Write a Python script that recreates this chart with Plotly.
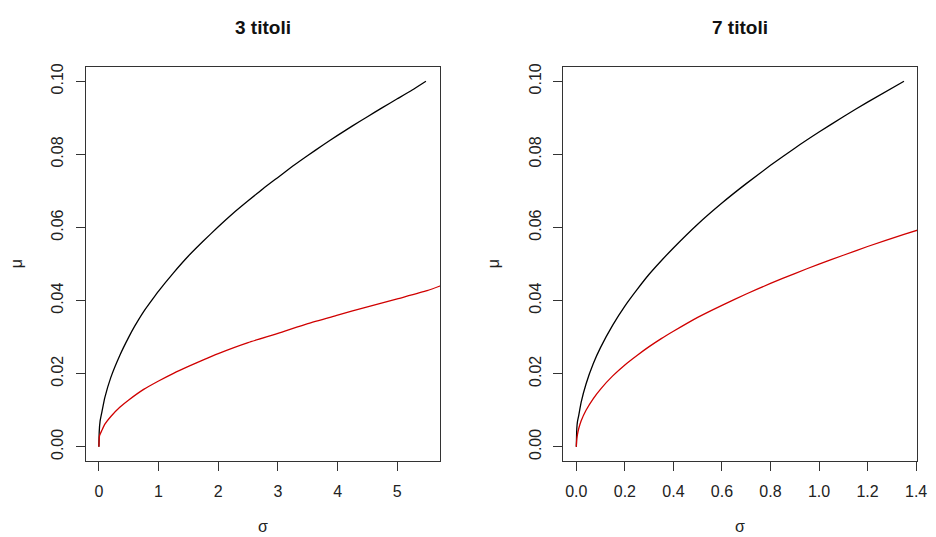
import plotly.graph_objects as go

W, H = 936, 537

# ---- data ----
# Panel 1: "3 titoli"
sig3_black = [0, 0.005, 0.02, 0.05, 0.1, 0.2, 0.35, 0.5, 0.6, 0.75, 0.9, 1, 1.25, 1.5, 1.75, 2, 2.25,
              2.5, 2.75, 3, 3.25, 3.5, 3.75, 4, 4.25, 4.5, 4.75, 5, 5.25, 5.48]
mu3_black = [0, 0.004, 0.007, 0.0095, 0.0135, 0.019, 0.025, 0.030, 0.033, 0.037, 0.0404, 0.0426,
             0.0476, 0.0522, 0.0563, 0.0602, 0.0639, 0.0673, 0.0706, 0.0737, 0.0768, 0.0797,
             0.0825, 0.0852, 0.0878, 0.0903, 0.0928, 0.0952, 0.0976, 0.100]
sig3_red = [0, 0.01, 0.05, 0.1, 0.2, 0.35, 0.5, 0.75, 1, 1.25, 1.5, 1.75, 2, 2.5, 3, 3.5, 4, 4.5,
            5, 5.5, 5.8]
mu3_red = [0, 0.003, 0.0045, 0.0062, 0.0083, 0.0108, 0.0128, 0.0157, 0.018, 0.0201, 0.022, 0.0238,
           0.0255, 0.0285, 0.031, 0.0337, 0.036, 0.0383, 0.0405, 0.0427, 0.0445]

# Panel 2: "7 titoli"
sig7_black = [0, 0.002, 0.005, 0.01, 0.02, 0.04, 0.07, 0.1, 0.15, 0.2, 0.25, 0.3, 0.35, 0.4, 0.5,
              0.6, 0.7, 0.8, 0.9, 1.0, 1.1, 1.2, 1.35]
mu7_black = [0, 0.005, 0.007, 0.0086, 0.0122, 0.0172, 0.0228, 0.0272, 0.0333, 0.0385, 0.043,
             0.0472, 0.0509, 0.0544, 0.0609, 0.0667, 0.072, 0.077, 0.0817, 0.0861, 0.0903,
             0.0943, 0.100]
sig7_red = [0, 0.002, 0.005, 0.01, 0.02, 0.04, 0.07, 0.1, 0.15, 0.2, 0.25, 0.3, 0.35, 0.4, 0.5,
            0.6, 0.7, 0.8, 0.9, 1.0, 1.1, 1.2, 1.35, 1.45]
mu7_red = [0, 0.0022, 0.0035, 0.005, 0.0071, 0.01, 0.0132, 0.0158, 0.0194, 0.0224, 0.025, 0.0274,
           0.0296, 0.0316, 0.0354, 0.0387, 0.0418, 0.0447, 0.0474, 0.05, 0.0524, 0.0548,
           0.0581, 0.0602]

titles = ["3 titoli", "7 titoli"]
x1_ticks = [0, 1, 2, 3, 4, 5]
x1_labels = ["0", "1", "2", "3", "4", "5"]
x2_ticks = [0, 0.2, 0.4, 0.6, 0.8, 1.0, 1.2, 1.4]
x2_labels = ["0.0", "0.2", "0.4", "0.6", "0.8", "1.0", "1.2", "1.4"]
y_ticks = [0, 0.02, 0.04, 0.06, 0.08, 0.10]
y_labels = ["0.00", "0.02", "0.04", "0.06", "0.08", "0.10"]

BLACK = "#000000"
RED = "#D00000"
FONT = "Liberation Sans, Arial, sans-serif"

fig = go.Figure()
series = [(sig3_black, mu3_black, BLACK, "x", "y"),
          (sig3_red, mu3_red, RED, "x", "y"),
          (sig7_black, mu7_black, BLACK, "x2", "y2"),
          (sig7_red, mu7_red, RED, "x2", "y2")]
for xs, ys, col, xa, ya in series:
    fig.add_trace(go.Scatter(x=xs, y=ys, mode="lines",
                             line=dict(color=col, width=1.3, shape="spline", smoothing=0.5),
                             xaxis=xa, yaxis=ya, showlegend=False, cliponaxis=True))


def px_x(a, b):
    return [a / W, b / W]


def px_y(top, bottom):
    return [1 - bottom / H, 1 - top / H]


axis_common = dict(showline=True, linecolor="#333333", linewidth=1, mirror=True,
                   ticks="outside", tickcolor="#333333", tickwidth=1, showgrid=False,
                   zeroline=False, tickfont=dict(family=FONT, size=16, color="#222222"),
                   ticklabeloverflow="allow")

ydom = px_y(64, 461)
fig.update_layout(
    width=W, height=H,
    margin=dict(l=0, r=0, t=0, b=0),
    plot_bgcolor="white", paper_bgcolor="white",
    xaxis=dict(domain=px_x(86.7, 445), range=[-0.22, 5.72], tickvals=x1_ticks, ticktext=x1_labels,
               anchor="y", ticklen=9, ticklabelstandoff=6, **axis_common),
    yaxis=dict(domain=ydom, range=[-0.004, 0.104], tickvals=y_ticks, ticktext=y_labels,
               anchor="x", tickangle=-90, ticklen=9, ticklabelstandoff=6, **axis_common),
    xaxis2=dict(domain=px_x(569.3, 927), range=[-0.054, 1.404], tickvals=x2_ticks, ticktext=x2_labels,
                anchor="y2", ticklen=9, ticklabelstandoff=6, **axis_common),
    yaxis2=dict(domain=ydom, range=[-0.004, 0.104], tickvals=y_ticks, ticktext=y_labels,
                anchor="x2", tickangle=-90, ticklen=9, ticklabelstandoff=6, **axis_common),
)

annots = []
centers = [(86.7 + 445) / 2, (569.3 + 927) / 2]
for cx, t in zip(centers, titles):
    annots.append(dict(text="<b>" + t + "</b>", x=cx / W, y=1 - 25 / H, xref="paper", yref="paper",
                       xanchor="center", yanchor="middle", showarrow=False,
                       font=dict(family=FONT, size=19, color="#111111")))
    annots.append(dict(text="σ", x=cx / W, y=1 - 526 / H, xref="paper", yref="paper",
                       xanchor="center", yanchor="middle", showarrow=False,
                       font=dict(family=FONT, size=16, color="#222222")))
for mx in [17, 499]:
    annots.append(dict(text="μ", x=mx / W, y=1 - 262 / H, xref="paper", yref="paper",
                       xanchor="center", yanchor="middle", showarrow=False, textangle=-90,
                       font=dict(family=FONT, size=16, color="#222222")))
fig.update_layout(annotations=annots)

fig.write_html("out.html")
